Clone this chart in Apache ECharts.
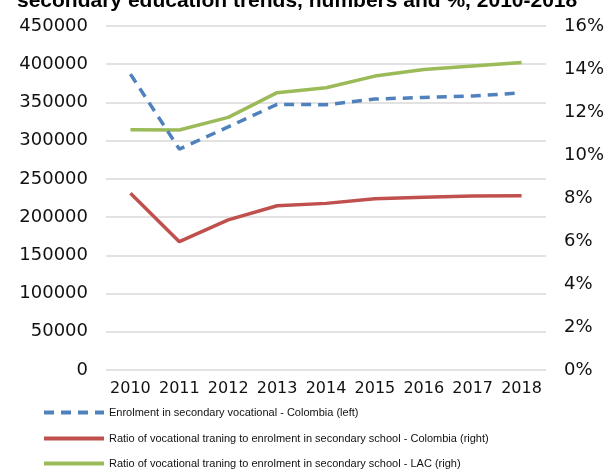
<!DOCTYPE html>
<html>
<head>
<meta charset="utf-8">
<script src="https://cdn.jsdelivr.net/npm/echarts@6/dist/echarts.min.js"></script>
<style>
  html, body { margin: 0; padding: 0; background: #fff; }
  #chart { width: 607px; height: 470px; }
</style>
</head>
<body>
<div id="chart"></div>
<script>
// Years on the category axis
const years = ['2010', '2011', '2012', '2013', '2014', '2015', '2016', '2017', '2018'];

// Enrolment in secondary vocational education, Colombia (left axis, students)
const enrolmentColombia = [387000, 289000, 318000, 347500, 347000, 354500, 356500, 358500, 362500];

// Share of vocational training in secondary enrolment, % (right axis)
const ratioColombia = [8.22, 5.97, 6.98, 7.64, 7.75, 7.97, 8.03, 8.09, 8.11];
const ratioLAC = [11.18, 11.16, 11.75, 12.9, 13.13, 13.67, 13.98, 14.14, 14.3];

// Series names as shown in the legend
const seriesNames = [
  'Enrolment in secondary vocational - Colombia (left)',
  'Ratio of vocational traning to enrolment in secondary school - Colombia (right)',
  'Ratio of vocational traning to enrolment in secondary school - LAC (righ)'
];

// Axis ranges
const leftMax = 450000, leftStep = 50000;
const rightMax = 16, rightStep = 2;

const FONT = 'DejaVu Sans';

const chart = echarts.init(document.getElementById('chart'), null, { renderer: 'canvas' });

// One legend block per row so the rows stack without wrapping
const legendRow = (name, top) => ({
  data: [name],
  orient: 'horizontal',
  left: 37,
  top: top,
  itemWidth: 60,
  itemHeight: 10,
  itemStyle: { opacity: 0 },
  lineStyle: { width: 4 },
  textStyle: { fontFamily: 'Liberation Sans', fontSize: 11, color: '#111' }
});

chart.setOption({
  animation: false,
  backgroundColor: '#ffffff',
  textStyle: { fontFamily: FONT },
  title: {
    text: 'secondary education trends, numbers and %, 2010-2018',
    left: 12,
    top: -14,
    textStyle: { fontFamily: 'Liberation Sans', fontWeight: 'bold', fontSize: 21, color: '#000' }
  },
  grid: { left: 106, right: 61, top: 26, bottom: 100, containLabel: false },
  legend: [
    legendRow(seriesNames[0], 402),
    legendRow(seriesNames[1], 428),
    legendRow(seriesNames[2], 453)
  ],
  xAxis: {
    type: 'category',
    data: years,
    boundaryGap: true,
    axisLine: { show: false },
    axisTick: { show: false },
    axisLabel: { fontFamily: FONT, fontSize: 16, color: '#111', margin: 11, interval: 0 }
  },
  yAxis: [
    {
      type: 'value',
      min: 0, max: leftMax, interval: leftStep,
      position: 'left',
      axisLine: { show: false },
      axisTick: { show: false },
      axisLabel: { fontFamily: FONT, fontSize: 18, color: '#111', margin: 18, formatter: v => String(v) },
      splitLine: { lineStyle: { color: '#d9d9d9', width: 1.5 } }
    },
    {
      type: 'value',
      min: 0, max: rightMax, interval: rightStep,
      position: 'right',
      axisLine: { show: false },
      axisTick: { show: false },
      axisLabel: { fontFamily: FONT, fontSize: 18, color: '#111', margin: 18, formatter: '{value}%' },
      splitLine: { show: false }
    }
  ],
  series: [
    {
      name: seriesNames[1],
      type: 'line',
      yAxisIndex: 1,
      data: ratioColombia,
      symbol: 'none',
      itemStyle: { color: '#c0504d' },
      lineStyle: { color: '#c0504d', width: 3.5 }
    },
    {
      name: seriesNames[2],
      type: 'line',
      yAxisIndex: 1,
      data: ratioLAC,
      symbol: 'none',
      itemStyle: { color: '#9bbb59' },
      lineStyle: { color: '#9bbb59', width: 3.5 }
    },
    {
      name: seriesNames[0],
      type: 'line',
      yAxisIndex: 0,
      data: enrolmentColombia,
      symbol: 'none',
      itemStyle: { color: '#4f81bd' },
      lineStyle: { color: '#4f81bd', width: 3.5, type: [10, 7] }
    }
  ]
});
</script>
</body>
</html>
